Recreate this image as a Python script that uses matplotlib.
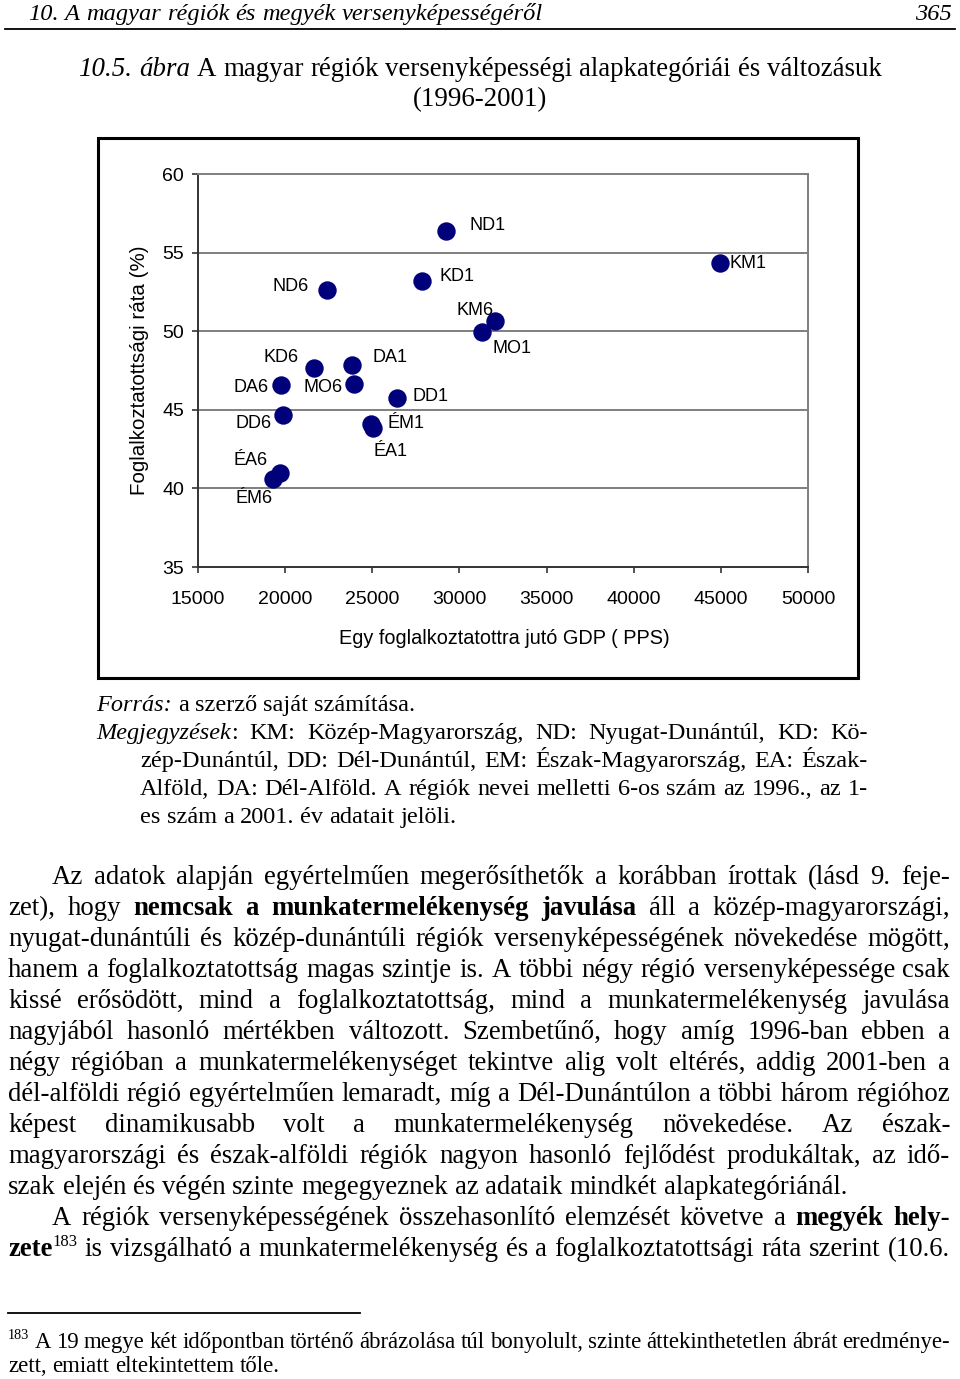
import matplotlib
matplotlib.use("Agg")
import matplotlib.pyplot as plt
from matplotlib.patches import Rectangle
from matplotlib.lines import Line2D

# ---------------- data ----------------
point_labels = ['ND1', 'KM1', 'KD1', 'ND6', 'KM6', 'MO1', 'KD6', 'DA1',
                'MO6', 'DA6', 'DD1', 'DD6', 'ÉM1', 'ÉA1', 'ÉA6', 'ÉM6']
gdp_per_employed = [29250, 44950, 27850, 22380, 32060, 31320, 21670, 23840,
                    23955, 19750, 26400, 19860, 24920, 25035, 19720, 19310]
employment_rate = [56.40, 54.37, 53.22, 52.65, 50.65, 49.93, 47.64, 47.86,
                   46.67, 46.59, 45.76, 44.70, 44.09, 43.86, 40.97, 40.57]
x_ticks = [15000, 20000, 25000, 30000, 35000, 40000, 45000, 50000]
y_ticks = [35, 40, 45, 50, 55, 60]
x_label = 'Egy foglalkoztatottra jutó GDP ( PPS)'
y_label = 'Foglalkoztatottsági ráta (%)'

header_left = '10. A magyar régiók és megyék versenyképességéről'
header_right = '365'
title_line1 = '//10.5. ábra// A magyar régiók versenyképességi alapkategóriái és változásuk'
title_line2 = '(1996-2001)'
source_line = '//Forrás:// a szerző saját számítása.'
notes_lines = [
    '//Megjegyzések//: KM: Közép-Magyarország, ND: Nyugat-Dunántúl, KD: Kö-',
    'zép-Dunántúl, DD: Dél-Dunántúl, EM: Észak-Magyarország, EA: Észak-',
    'Alföld, DA: Dél-Alföld. A régiók nevei melletti 6-os szám az 1996., az 1-',
    'es szám a 2001. év adatait jelöli.',
]
body_lines = [
    'Az adatok alapján egyértelműen megerősíthetők a korábban írottak (lásd 9. feje-',
    'zet), hogy **nemcsak a munkatermelékenység javulása** áll a közép-magyarországi,',
    'nyugat-dunántúli és közép-dunántúli régiók versenyképességének növekedése mögött,',
    'hanem a foglalkoztatottság magas szintje is. A többi négy régió versenyképessége csak',
    'kissé erősödött, mind a foglalkoztatottság, mind a munkatermelékenység javulása',
    'nagyjából hasonló mértékben változott. Szembetűnő, hogy amíg 1996-ban ebben a',
    'négy régióban a munkatermelékenységet tekintve alig volt eltérés, addig 2001-ben a',
    'dél-alföldi régió egyértelműen lemaradt, míg a Dél-Dunántúlon a többi három régióhoz',
    'képest dinamikusabb volt a munkatermelékenység növekedése. Az észak-',
    'magyarországi és észak-alföldi régiók nagyon hasonló fejlődést produkáltak, az idő-',
    'szak elején és végén szinte megegyeznek az adataik mindkét alapkategóriánál.',
    'A régiók versenyképességének összehasonlító elemzését követve a **megyék hely-**',
    '**zete**^^183^^ is vizsgálható a munkatermelékenység és a foglalkoztatottsági ráta szerint (10.6.',
]
footnote_lines = [
    '^^183^^ A 19 megye két időpontban történő ábrázolása túl bonyolult, szinte áttekinthetetlen ábrát eredménye-',
    'zett, emiatt eltekintettem tőle.',
]

# ---------------- page setup ----------------
W, H = 960, 1379
fig = plt.figure(figsize=(W / 100, H / 100), dpi=100)
page = fig.add_axes([0, 0, 1, 1])
page.set_xlim(0, W)
page.set_ylim(H, 0)
page.axis('off')
renderer = fig.canvas.get_renderer()

SERIF = 'Liberation Serif'
SANS = 'Liberation Sans'


def parse_words(s):
    """Split markup into words; each word is a list of (text, style) pieces."""
    words, cur, piece = [], [], ''
    bold = ital = sup = False
    i = 0

    def flush():
        nonlocal piece
        if piece:
            cur.append((piece, (bold, ital, sup)))
            piece = ''
    while i < len(s):
        if s.startswith('**', i):
            flush(); bold = not bold; i += 2; continue
        if s.startswith('//', i):
            flush(); ital = not ital; i += 2; continue
        if s.startswith('^^', i):
            flush(); sup = not sup; i += 2; continue
        ch = s[i]
        if ch == ' ':
            flush()
            if cur:
                words.append(cur)
            cur = []
        else:
            piece += ch
        i += 1
    flush()
    if cur:
        words.append(cur)
    return words


def piece_kw(style, size, family):
    bold, ital, sup = style
    return dict(family=family, size=size * (0.62 if sup else 1.0),
                weight='bold' if bold else 'normal',
                style='italic' if ital else 'normal')


def measure(text, **kw):
    t = page.text(0, 0, text, **kw)
    w = t.get_window_extent(renderer).width
    t.remove()
    return w


def word_width(word, size, family):
    return sum(measure(p, **piece_kw(st, size, family)) for p, st in word)


def space_width(size, family):
    return measure('a a', family=family, size=size) - measure('aa', family=family, size=size)


def natural_width(line, size, family):
    ws = parse_words(line)
    return sum(word_width(w, size, family) for w in ws) + space_width(size, family) * (len(ws) - 1)


def draw_line(line, x0, y, size, family, x1=None, justify=False, align='left', color='black'):
    ws = parse_words(line)
    widths = [word_width(w, size, family) for w in ws]
    sp = space_width(size, family)
    total = sum(widths) + sp * (len(ws) - 1)
    if justify and x1 is not None and len(ws) > 1:
        gap = (x1 - x0 - sum(widths)) / (len(ws) - 1)
        x = x0
    else:
        gap = sp
        if align == 'center':
            x = x0 - total / 2
        elif align == 'right':
            x = x0 - total
        else:
            x = x0
    for w, wd in zip(ws, widths):
        xx = x
        for p, st in w:
            kw = piece_kw(st, size, family)
            dy = -size * 1.389 * 0.38 if st[2] else 0
            page.text(xx, y + dy, p, ha='left', va='baseline', color=color, **kw)
            xx += measure(p, **kw)
        x += wd + gap


def fit_size(line, width, family):
    return 10 * width / natural_width(line, 10, family)


# ---------------- header ----------------
hs = fit_size('//' + header_left + '//', 513, SERIF)
draw_line('//' + header_left + '//', 28, 20, hs, SERIF)
draw_line('//' + header_right + '//', 952, 20, hs, SERIF, align='right')
page.add_line(Line2D([5, 955], [28.5, 28.5], color='black', lw=1.3))

ts = fit_size(title_line1, 805, SERIF)
draw_line(title_line1, 480, 76, ts, SERIF, align='center')
draw_line(title_line2, 480, 106, ts, SERIF, align='center')

# ---------------- chart ----------------
page.add_patch(Rectangle((98, 138), 760, 540, fill=False, ec='black', lw=2.2))

ax = fig.add_axes([198 / W, 1 - 567 / H, (808 - 198) / W, (567 - 174) / H])
ax.set_xlim(15000, 50000)
ax.set_ylim(35, 60)
ax.set_xticks(x_ticks)
ax.set_yticks(y_ticks)
ax.set_xticklabels([str(v) for v in x_ticks], family=SANS, fontsize=14)
ax.set_yticklabels([str(v) for v in y_ticks], family=SANS, fontsize=14)
ax.tick_params(axis='both', direction='out', length=4, width=1.2, color='#333333')
ax.tick_params(axis='x', pad=13)
ax.tick_params(axis='y', pad=6)
for yv in y_ticks[1:-1]:
    ax.axhline(yv, color='#7f7f7f', lw=1.4, zorder=1)
for side in ['top', 'right']:
    ax.spines[side].set_color('#7f7f7f')
    ax.spines[side].set_linewidth(1.4)
for side in ['left', 'bottom']:
    ax.spines[side].set_color('#333333')
    ax.spines[side].set_linewidth(1.4)

ax.scatter(gdp_per_employed, employment_rate, s=150, color='#00007a',
           edgecolors='#00007a', zorder=4)

label_offsets = {
    'ND1': (41, -5), 'KM1': (28, 1), 'KD1': (35, -4), 'ND6': (-36, -3),
    'KM6': (-20, -10), 'MO1': (30, 16), 'KD6': (-33, -11), 'DA1': (38, -7),
    'MO6': (-31, 4), 'DA6': (-30, 3), 'DD1': (34, -1), 'DD6': (-29, 9),
    'ÉM1': (35, -1), 'ÉA1': (18, 24), 'ÉA6': (-30, -13), 'ÉM6': (-19, 19),
}
for lab, xv, yv in zip(point_labels, gdp_per_employed, employment_rate):
    dx, dy = label_offsets[lab]
    ax.annotate(lab, (xv, yv), xytext=(dx, -dy), textcoords='offset pixels',
                ha='center', va='center', family=SANS, fontsize=13, zorder=3)

ax.set_xlabel(x_label, family=SANS, fontsize=14.3)
ax.set_ylabel(y_label, family=SANS, fontsize=14.8)
ax.xaxis.set_label_coords((504 - 198) / (808 - 198), -(629 - 567) / (567 - 174))
ax.yaxis.set_label_coords(-(198 - 149) / (808 - 198), (567 - 370) / (567 - 174))

# ---------------- notes ----------------
bs = min(fit_size(body_lines[3], 942, SERIF), fit_size(body_lines[7], 942, SERIF)) * 0.995
ns = min(fit_size(notes_lines[0], 772, SERIF),
         fit_size(notes_lines[1], 728, SERIF),
         fit_size(notes_lines[2], 728, SERIF)) * 0.985
draw_line(source_line, 96, 711, ns, SERIF)
draw_line(notes_lines[0], 96, 739, ns, SERIF, x1=868, justify=True)
draw_line(notes_lines[1], 140, 767, ns, SERIF, x1=868, justify=True)
draw_line(notes_lines[2], 140, 795, ns, SERIF, x1=868, justify=True)
draw_line(notes_lines[3], 140, 823, ns, SERIF)

# ---------------- body ----------------
y0 = 884
for i, line in enumerate(body_lines):
    x0 = 52 if i in (0, 11) else 8
    last = (i == 10)
    draw_line(line, x0, y0 + 31 * i, bs, SERIF, x1=950, justify=not last)

# ---------------- footnote ----------------
page.add_line(Line2D([8, 360], [1313, 1313], color='black', lw=1.3))
fs = bs * 0.85
draw_line(footnote_lines[0], 8, 1348, fs, SERIF, x1=950, justify=True)
draw_line(footnote_lines[1], 8, 1372, fs, SERIF)

fig.savefig('out.png', dpi=100)
